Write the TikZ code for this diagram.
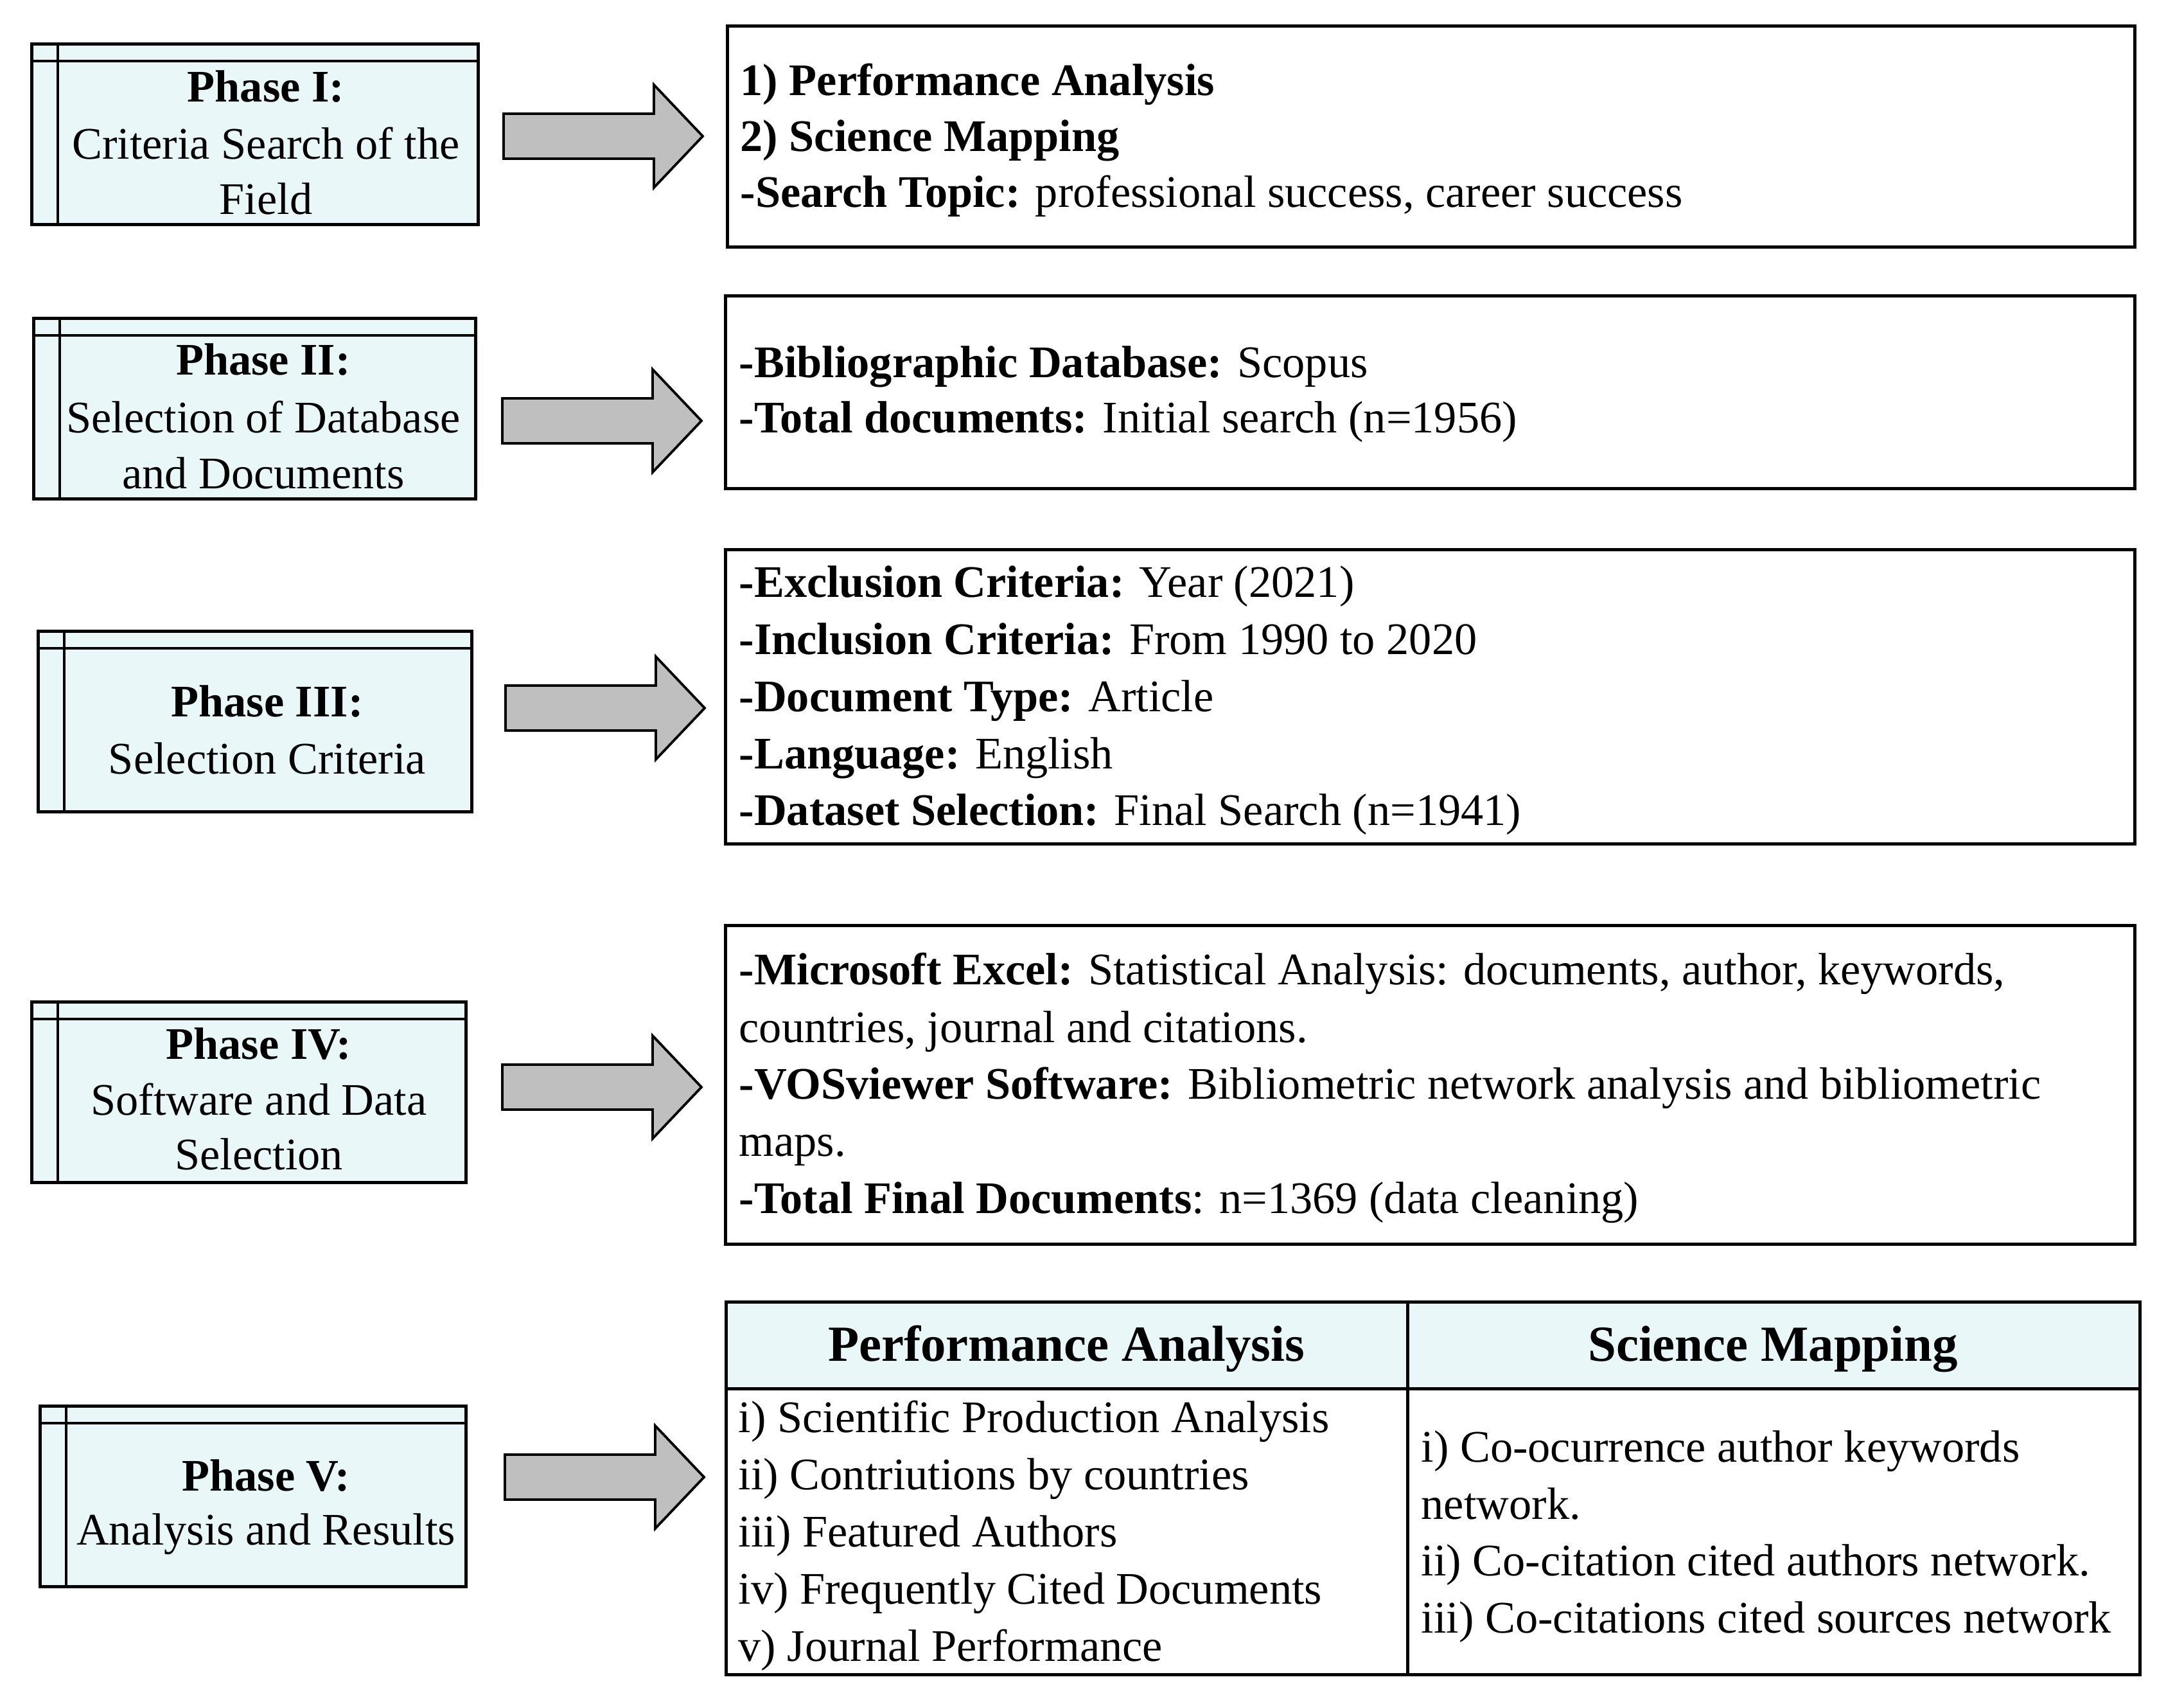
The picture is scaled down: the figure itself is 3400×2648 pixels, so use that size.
\documentclass[tikz,border=0pt]{standalone}
\usepackage{fontspec}
\setmainfont{Liberation Serif}
\definecolor{phasefill}{RGB}{233,247,248}
\definecolor{arrowgray}{RGB}{191,191,191}
\begin{document}
\begin{tikzpicture}[x=0.01cm,y=-0.01cm,
  body/.style={font=\fontsize{20}{24}\selectfont, inner sep=0pt, anchor=base west},
  ctr/.style={font=\fontsize{20}{24}\selectfont, inner sep=0pt, anchor=base},
  hdr/.style={font=\fontsize{22.4}{26}\selectfont\bfseries, inner sep=0pt, anchor=base},
  phasebox/.style={draw, fill=phasefill, line width=1.4pt, inner sep=0pt, anchor=north west},
  infobox/.style={draw, line width=1.4pt, inner sep=0pt, anchor=north west},
  innerline/.style={line width=1.2pt},
  blockarrow/.pic={\draw[line width=1.1pt, fill=arrowgray, line join=miter]
     (0,-35) -- (234,-35) -- (234,-80) -- (310,0) -- (234,80) -- (234,35) -- (0,35) -- cycle;}
]
\useasboundingbox (0,0) rectangle (3400,2648);
\fill[white] (0,0) rectangle (3400,2648);

% ---------- phase boxes ----------
\node[phasebox, minimum width=6.95cm, minimum height=2.81cm] (ph1) at (47,66) {};
\node[phasebox, minimum width=6.88cm, minimum height=2.81cm] (ph2) at (50,493) {};
\node[phasebox, minimum width=6.75cm, minimum height=2.81cm] (ph3) at (57,980) {};
\node[phasebox, minimum width=6.76cm, minimum height=2.81cm] (ph4) at (47,1557) {};
\node[phasebox, minimum width=6.63cm, minimum height=2.81cm] (ph5) at (60,2186) {};
\foreach \p in {ph1,ph2,ph3,ph4,ph5}{
  \draw[innerline] ([yshift=-0.29cm]\p.north west) -- ([yshift=-0.29cm]\p.north east);
  \draw[innerline] ([xshift=0.43cm]\p.north west) -- ([xshift=0.43cm]\p.south west);
}

\node[ctr] (p1a) at (414,158) {\bfseries Phase I:};
\node[ctr] (p1b) at (414,247) {Criteria Search of the};
\node[ctr] (p1c) at (414,333) {Field};

\node[ctr] (p2a) at (410,583) {\bfseries Phase II:};
\node[ctr] (p2b) at (410,673) {Selection of Database};
\node[ctr] (p2c) at (410,760) {and Documents};

\node[ctr] (p3a) at (416,1115) {\bfseries Phase III:};
\node[ctr] (p3b) at (416,1204) {Selection Criteria};

\node[ctr] (p4a) at (403,1648) {\bfseries Phase IV:};
\node[ctr] (p4b) at (403,1735) {Software and Data};
\node[ctr] (p4c) at (403,1820) {Selection};

\node[ctr] (p5a) at (414,2320) {\bfseries Phase V:};
\node[ctr] (p5b) at (414,2404) {Analysis and Results};

% ---------- arrows ----------
\pic at (784,212) {blockarrow};
\pic at (782,655) {blockarrow};
\pic at (787,1102) {blockarrow};
\pic at (782,1692) {blockarrow};
\pic at (786,2299) {blockarrow};

% ---------- info boxes ----------
\node[infobox, minimum width=21.90cm, minimum height=3.44cm] (b1) at (1130,38) {};
\node[infobox, minimum width=21.93cm, minimum height=3.00cm] (b2) at (1127,458) {};
\node[infobox, minimum width=21.93cm, minimum height=4.58cm] (b3) at (1127,853) {};
\node[infobox, minimum width=21.93cm, minimum height=4.96cm] (b4) at (1127,1438) {};

\node[body] (t1a) at (1152,148) {\bfseries 1) Performance Analysis};
\node[body] (t1b) at (1152,235) {\bfseries 2) Science Mapping};
\node[body] (t1c) at (1152,322) {\textbf{-Search Topic:} professional success, career success};

\node[body] (t2a) at (1150,587) {\textbf{-Bibliographic Database:} Scopus};
\node[body] (t2b) at (1150,673) {\textbf{-Total documents:} Initial search (n=1956)};

\node[body] (t3a) at (1150,929) {\textbf{-Exclusion Criteria:} Year (2021)};
\node[body] (t3b) at (1150,1018) {\textbf{-Inclusion Criteria:} From 1990 to 2020};
\node[body] (t3c) at (1150,1107) {\textbf{-Document Type:} Article};
\node[body] (t3d) at (1150,1196) {\textbf{-Language:} English};
\node[body] (t3e) at (1150,1284) {\textbf{-Dataset Selection:} Final Search (n=1941)};

\node[body] (t4a) at (1150,1532) {\textbf{-Microsoft Excel:} Statistical Analysis: documents, author, keywords,};
\node[body] (t4b) at (1150,1622) {countries, journal and citations.};
\node[body] (t4c) at (1150,1710) {\textbf{-VOSviewer Software:} Bibliometric network analysis and bibliometric};
\node[body] (t4d) at (1150,1799) {maps.};
\node[body] (t4e) at (1150,1888) {\textbf{-Total Final Documents}: n=1369 (data cleaning)};

% ---------- results table ----------
\fill[phasefill] (1128,2024) rectangle (3328,2161);
\node[infobox, minimum width=22.00cm, minimum height=5.80cm] (b5) at (1128,2024) {};
\draw[line width=1.4pt] ([yshift=-1.37cm]b5.north west) -- ([yshift=-1.37cm]b5.north east);
\draw[line width=1.4pt] ([xshift=10.63cm]b5.north west) -- ([xshift=10.63cm]b5.south west);

\node[hdr] (h1) at (1660,2118) {Performance Analysis};
\node[hdr] (h2) at (2760,2118) {Science Mapping};

\node[body] (l1) at (1149,2229) {i) Scientific Production Analysis};
\node[body] (l2) at (1149,2318) {ii) Contriutions by countries};
\node[body] (l3) at (1149,2407) {iii) Featured Authors};
\node[body] (l4) at (1149,2496) {iv) Frequently Cited Documents};
\node[body] (l5) at (1149,2585) {v) Journal Performance};

\node[body] (r1) at (2212,2275) {i) Co-ocurrence author keywords};
\node[body] (r2) at (2212,2364) {network.};
\node[body] (r3) at (2212,2452) {ii) Co-citation cited authors network.};
\node[body] (r4) at (2212,2541) {iii) Co-citations cited sources network};
\end{tikzpicture}
\end{document}
